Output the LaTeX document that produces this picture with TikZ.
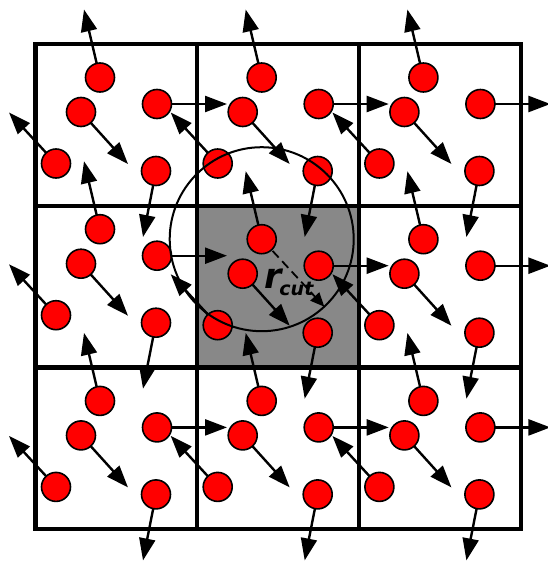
\documentclass[tikz,border=0pt]{standalone}
\usepackage{fontspec}
\newfontfamily\lblfont{DejaVu Sans}
\usetikzlibrary{arrows.meta,calc}
\definecolor{cellgray}{RGB}{136,136,136}
\tikzset{
  gridline/.style={line width=4.2pt, draw=black},
  vel/.style={line width=2.4pt, arrows={-Triangle[length=22pt,width=16pt]}},
  particle/.style={circle, draw=black, line width=1.6pt, fill=red, minimum size=29pt, inner sep=0pt},
  cutcircle/.style={line width=2pt, draw=black},
  cutarrow/.style={line width=1.8pt, dash pattern=on 9pt off 5pt, shorten <=16pt, arrows={-Triangle[length=14pt,width=12pt]}},
}
\begin{document}
\begin{tikzpicture}[x=1pt,y=-1pt]
\useasboundingbox (0,0) rectangle (547,562);
% shaded central cell
\fill[cellgray] (197.2,205.7) rectangle ++(161.7,161.7);
% cells
\foreach \i in {0,1,2}{
  \foreach \j in {0,1,2}{
    \draw[gridline] ({35.5+\i*161.7},{44+\j*161.7}) rectangle ++(161.7,161.7);
  }
}
% particle positions and velocity arrows
\foreach \i in {0,1,2}{
  \foreach \j in {0,1,2}{
    \pgfmathsetmacro\ox{35.5+\i*161.7}
    \pgfmathsetmacro\oy{44+\j*161.7-10*and(\i==0,\j==1)}
    \foreach \k/\px/\py/\vx/\vy in {1/64.5/33.5/-16/-68, 2/45.5/68/47/52, 3/20.5/119.5/-47/-51, 4/121.5/60/70/0, 5/120.5/127/-13/66}{
      \coordinate (c-\i-\j-\k) at ({\ox+\px},{\oy+\py});
      \coordinate (t-\i-\j-\k) at ({\ox+\px+\vx},{\oy+\py+\vy});
      \draw[vel] (c-\i-\j-\k) -- (t-\i-\j-\k);
    }
  }
}
% particles
\foreach \i in {0,1,2}{
  \foreach \j in {0,1,2}{
    \foreach \k in {1,...,5}{
      \node[particle] (p-\i-\j-\k) at (c-\i-\j-\k) {};
    }
  }
}
% cutoff circle and radius
\draw[cutcircle] (c-1-1-1) circle[radius=92pt];
\coordinate (rc) at ($(c-1-1-1)+(62.6,67.5)$);
\draw[cutarrow] (c-1-1-1) -- (rc);
\node[anchor=base west, inner sep=0pt] (rlabel) at (264,288)
  {\lblfont\bfseries\itshape{\fontsize{35}{35}\selectfont r}\kern-2pt\raisebox{-7pt}{\fontsize{19}{19}\selectfont cut}};
\end{tikzpicture}
\end{document}
